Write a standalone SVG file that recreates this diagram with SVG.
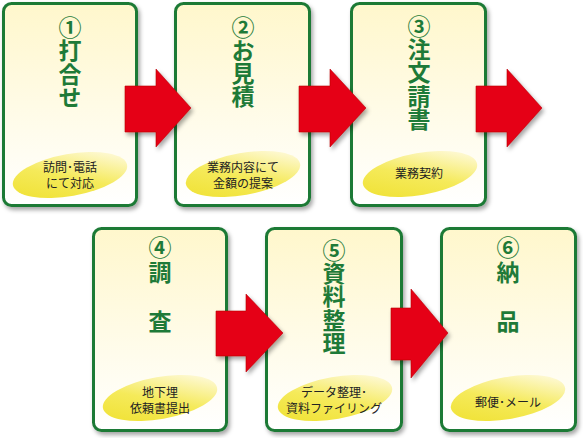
<svg xmlns="http://www.w3.org/2000/svg" width="583" height="438" viewBox="0 0 583 438">
<defs>
<linearGradient id="cardFill" x1="0" y1="0" x2="0" y2="1">
<stop offset="0" stop-color="#fff7cc"/>
<stop offset="1" stop-color="#ffffff"/>
</linearGradient>
<linearGradient id="ellFill" x1="0.1" y1="0.9" x2="0.95" y2="0.1">
<stop offset="0" stop-color="#f0e236"/>
<stop offset="0.45" stop-color="#f5ea5a"/>
<stop offset="1" stop-color="#fffbe6"/>
</linearGradient>
<filter id="shadow" x="-10%" y="-10%" width="125%" height="125%">
<feDropShadow dx="2" dy="3" stdDeviation="2" flood-color="#000" flood-opacity="0.35"/>
</filter>
</defs>
<style>
.card{fill:url(#cardFill);stroke:#1f7a36;stroke-width:3;filter:url(#shadow);}
.ell{fill:url(#ellFill);}
.title{font-family:"Noto Sans CJK JP","Noto Sans",sans-serif;font-weight:bold;font-size:23px;fill:#1e7a38;writing-mode:vertical-rl;text-orientation:upright;}
.sub{font-family:"Noto Sans CJK JP","Noto Sans",sans-serif;font-size:12px;fill:#222;text-anchor:middle;}
.arrow{fill:#e50012;stroke:#b8000e;stroke-width:0.6;filter:url(#shadow);}
</style>
<rect width="583" height="438" fill="#ffffff"/>
<g id="node1">
<rect class="card" x="3.5" y="3.5" width="133" height="202" rx="8"/>
<ellipse class="ell" cx="70" cy="175" rx="58" ry="21" transform="rotate(-10 70 175)"/>
<text class="title" x="70" y="15.5" letter-spacing="0.4">①打合せ</text>
<text class="sub"><tspan x="70" y="172">訪問･電話</tspan><tspan x="70" y="188">にて対応</tspan></text>
</g>
<g id="node2">
<rect class="card" x="175.5" y="3.5" width="134" height="202" rx="8"/>
<ellipse class="ell" cx="243" cy="174" rx="58" ry="21" transform="rotate(-10 243 174)"/>
<text class="title" x="243" y="15.5" letter-spacing="0">②お見積</text>
<text class="sub"><tspan x="243" y="171.5">業務内容にて</tspan><tspan x="243" y="187.5">金額の提案</tspan></text>
</g>
<g id="node3">
<rect class="card" x="351.5" y="3.5" width="134" height="202" rx="8"/>
<ellipse class="ell" cx="420" cy="174" rx="58" ry="21" transform="rotate(-10 420 174)"/>
<text class="title" x="419" y="14.5" letter-spacing="0.3">③注文請書</text>
<text class="sub" x="419" y="177.5">業務契約</text>
</g>
<g id="node4">
<rect class="card" x="93.5" y="228.5" width="133" height="202" rx="8"/>
<ellipse class="ell" cx="160" cy="398" rx="58" ry="21" transform="rotate(-10 160 398)"/>
<text class="title" x="160" y="236" letter-spacing="1.5">④調　査</text>
<text class="sub"><tspan x="160" y="396.5">地下埋</tspan><tspan x="160" y="412.5">依頼書提出</tspan></text>
</g>
<g id="node5">
<rect class="card" x="266.5" y="228.5" width="135" height="202" rx="8"/>
<ellipse class="ell" cx="335" cy="398" rx="58" ry="21" transform="rotate(-10 335 398)"/>
<text class="title" x="334" y="238.5" letter-spacing="0.3">⑤資料整理</text>
<text class="sub"><tspan x="334" y="397">データ整理･</tspan><tspan x="334" y="413">資料ファイリング</tspan></text>
</g>
<g id="node6">
<rect class="card" x="441.5" y="228.5" width="134" height="202" rx="8"/>
<ellipse class="ell" cx="508" cy="398" rx="58" ry="21" transform="rotate(-10 508 398)"/>
<text class="title" x="508" y="236" letter-spacing="1.5">⑥納　品</text>
<text class="sub" x="508" y="406.5">郵便･メール</text>
</g>
<g id="connectors">
<polygon class="arrow" points="125,86 156,86 156,69 191,108 156,147 156,132 125,132"/>
<polygon class="arrow" points="299,86 330,86 330,69 366,108 330,147 330,132 299,132"/>
<polygon class="arrow" points="476,86 507,86 507,69 542,108 507,147 507,132 476,132"/>
<polygon class="arrow" points="216,311 246,311 246,294 283,333 246,372 246,356 216,356"/>
<polygon class="arrow" points="391,308 411,308 411,289 448,333 411,378 411,360 391,360"/>
</g>
</svg>
